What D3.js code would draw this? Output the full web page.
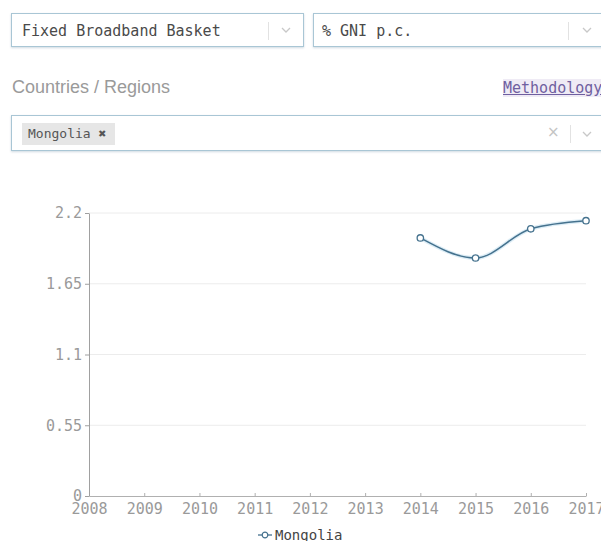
<!DOCTYPE html>
<html>
<head>
<meta charset="utf-8">
<title>Fixed Broadband Basket - Mongolia</title>
<script src="https://cdnjs.cloudflare.com/ajax/libs/d3/7.8.5/d3.min.js"></script>
<style>
  body { margin: 0; width: 601px; height: 541px; overflow: hidden; background: #fff; position: relative; }
  .mono { font-family: "DejaVu Sans Mono", monospace; }
  .box { position: absolute; height: 34px; border: 1px solid #a9c6d5; background: #fff;
         box-shadow: 0 1px 2px rgba(120,150,170,0.35); box-sizing: border-box; }
  .box .val { position: absolute; top: 8px; font-size: 15px; color: #4a4a4a; }
  .sep { position: absolute; top: 8px; width: 1px; height: 18px; background: #e2e2e2; }
  .chev { position: absolute; top: 12px; }
  .label { position: absolute; left: 12px; top: 77px; font-family: "Liberation Sans", Arial, sans-serif;
           font-size: 18px; color: #9a9a9a; }
  .method { position: absolute; left: 503px; top: 79px; font-size: 15px; color: #6f5fa0;
            text-decoration: underline; background: #efebf5; }
  .tag { position: absolute; left: 10px; top: 7px; height: 22px; width: 93px; background: #e6e6e6;
         font-size: 13px; color: #555; line-height: 22px; padding-left: 6px; box-sizing: border-box; }
  .clear { position: absolute; top: 7px; font-family: "DejaVu Sans", sans-serif; font-size: 15px; color: #c4c4c4; }
  svg.chart { position: absolute; left: 0; top: 0; }
  .chart text { font-family: "DejaVu Sans Mono", monospace; }
</style>
</head>
<body>
<div class="box" style="left:11px; top:13px; width:293px;">
  <span class="val mono" style="left:10px;">Fixed Broadband Basket</span>
  <span class="sep" style="left:256px;"></span>
  <svg class="chev" style="left:269px;" width="10" height="8"><polyline points="1,2 5,6 9,2" fill="none" stroke="#c8c8c8" stroke-width="1.3"/></svg>
</div>
<div class="box" style="left:313px; top:13px; width:300px;">
  <span class="val mono" style="left:8px;">% GNI p.c.</span>
  <span class="sep" style="left:254px;"></span>
  <svg class="chev" style="left:268px;" width="10" height="8"><polyline points="1,2 5,6 9,2" fill="none" stroke="#c8c8c8" stroke-width="1.3"/></svg>
</div>
<div class="label">Countries / Regions</div>
<div class="method mono">Methodology</div>
<div class="box" style="left:11px; top:115px; width:600px; height:36px;">
  <div class="tag mono">Mongolia &#x2716;</div>
  <span class="clear" style="left:535px;">&#x00d7;</span>
  <span class="sep" style="left:558px; top:9px;"></span>
  <svg class="chev" style="left:570px; top:14px;" width="10" height="8"><polyline points="1,2 5,6 9,2" fill="none" stroke="#c8c8c8" stroke-width="1.3"/></svg>
</div>

<script>
// data
var country = "Mongolia"
var years = [2014, 2015, 2016, 2017]
var values = [2.006, 1.85, 2.077, 2.14]
var xTickYears = [2008, 2009, 2010, 2011, 2012, 2013, 2014, 2015, 2016, 2017]
var yTicks = [0, 0.55, 1.1, 1.65, 2.2]

var lineColor = "#45728e"

var svg = d3.select("body").append("svg")
  .attr("class", "chart")
  .attr("width", 601)
  .attr("height", 541)

var x = d3.scaleLinear().domain([2008, 2017]).range([89, 586])
var y = d3.scaleLinear().domain([0, 2.2]).range([496, 213])

// horizontal grid
svg.append("g")
  .selectAll("line")
  .data(yTicks.slice(1))
  .enter().append("line")
  .attr("x1", x(2008)).attr("x2", x(2017))
  .attr("y1", y).attr("y2", y)
  .attr("stroke", "#ececec")
  .attr("stroke-width", 1)

var xAxis = svg.append("g")
  .attr("transform", "translate(0," + y(0) + ")")
  .call(d3.axisBottom(x).tickValues(xTickYears).tickFormat(d3.format("d"))
    .tickSize(-3).tickSizeOuter(0).tickPadding(7))
xAxis.select(".domain").attr("stroke", "#b0b0b0")
xAxis.selectAll(".tick line").attr("stroke", "#b0b0b0")
xAxis.selectAll("text").attr("fill", "#9a9a9a").attr("font-size", 15)

var yAxis = svg.append("g")
  .attr("transform", "translate(" + x(2008) + ",0)")
  .call(d3.axisLeft(y).tickValues(yTicks).tickFormat(function (d) { return d })
    .tickSize(4).tickSizeOuter(0).tickPadding(3))
yAxis.select(".domain").attr("stroke", "#a0a0a0")
yAxis.selectAll(".tick line").attr("stroke", "#a0a0a0")
yAxis.selectAll("text").attr("fill", "#9a9a9a").attr("font-size", 15)

var pts = years.map(function (d, i) { return { year: d, v: values[i] } })

var line = d3.line()
  .x(function (d) { return x(d.year) })
  .y(function (d) { return y(d.v) })
  .curve(d3.curveMonotoneX)

// soft halo under the line
svg.append("path").datum(pts)
  .attr("d", line)
  .attr("fill", "none")
  .attr("stroke", "#cfe6f2")
  .attr("stroke-width", 4)
  .attr("opacity", 0.7)

svg.append("path").datum(pts)
  .attr("d", line)
  .attr("fill", "none")
  .attr("stroke", lineColor)
  .attr("stroke-width", 1.5)

svg.selectAll("circle.pt")
  .data(pts)
  .enter().append("circle")
  .attr("class", "pt")
  .attr("cx", function (d) { return x(d.year) })
  .attr("cy", function (d) { return y(d.v) })
  .attr("r", 3.2)
  .attr("fill", "#fff")
  .attr("stroke", lineColor)
  .attr("stroke-width", 1.3)

// legend
var lg = svg.append("g").attr("transform", "translate(265,535)")
lg.append("line").attr("x1", -7).attr("x2", 7).attr("stroke", lineColor).attr("stroke-width", 1.3)
lg.append("circle").attr("r", 2.8).attr("fill", "#fff").attr("stroke", lineColor).attr("stroke-width", 1.2)
lg.append("text").attr("x", 10).attr("y", 5)
  .attr("font-size", 14).attr("fill", "#444")
  .text(country)
</script>
</body>
</html>
